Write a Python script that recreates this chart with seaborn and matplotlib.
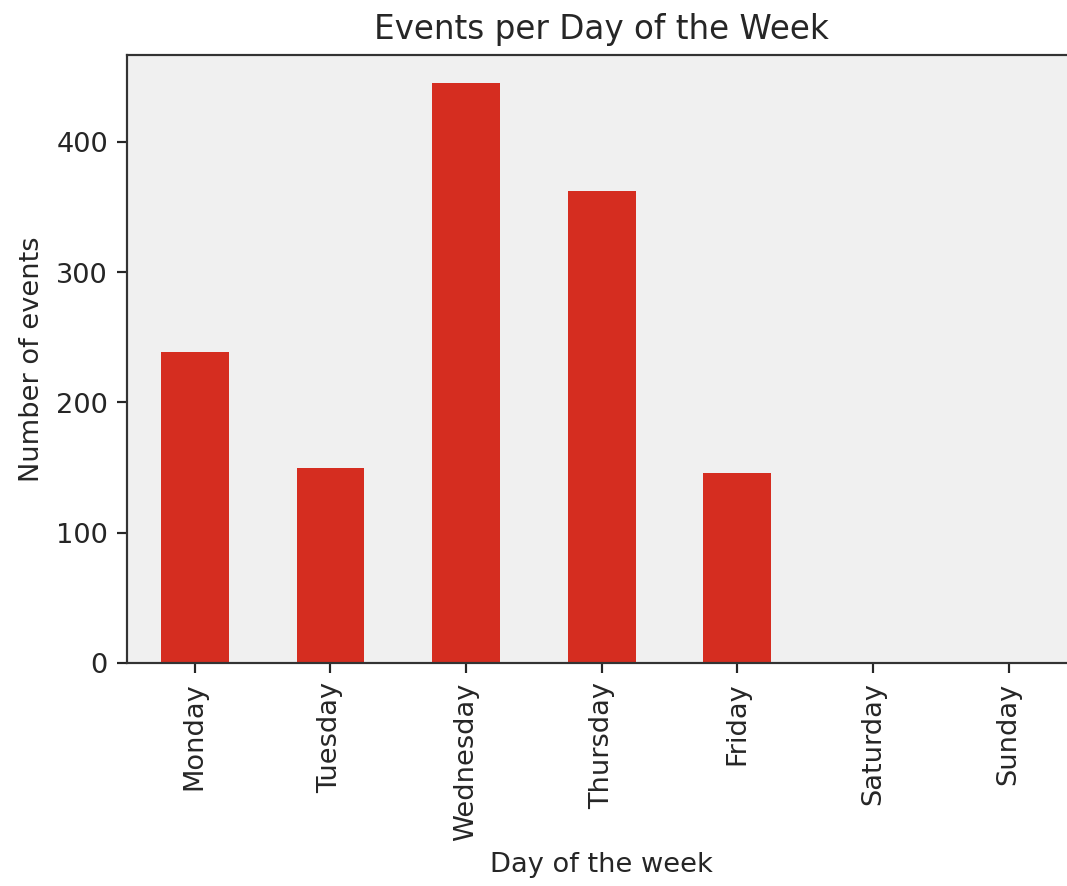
import matplotlib
matplotlib.use("Agg")
import matplotlib.pyplot as plt
import seaborn as sns

days = ["Monday", "Tuesday", "Wednesday", "Thursday", "Friday", "Saturday", "Sunday"]
events = [239, 150, 445, 362, 146, 0, 0]

ink = "#262626"
plt.rcParams.update({
    "text.color": ink,
    "axes.labelcolor": ink,
    "xtick.color": ink,
    "ytick.color": ink,
    "axes.edgecolor": "#333333",
})

dpi = 196
fig = plt.figure(figsize=(1067.4 / dpi, 886.4 / dpi), dpi=dpi)
ax = fig.add_axes([127 / 1067, 1 - 663 / 886, (1076 - 127) / 1067, (663 - 55) / 886])
ax.set_facecolor("#f0f0f0")

sns.barplot(x=days, y=events, color="#d52d20", width=0.5, saturation=1, ax=ax)

ax.set_xlim(-0.5, 6.5)
ax.set_ylim(0, 467)
ax.tick_params(axis="x", labelrotation=90)
ax.set_title("Events per Day of the Week")
ax.set_xlabel("Day of the week")
ax.set_ylabel("Number of events")

fig.savefig("out.png", dpi=dpi)
